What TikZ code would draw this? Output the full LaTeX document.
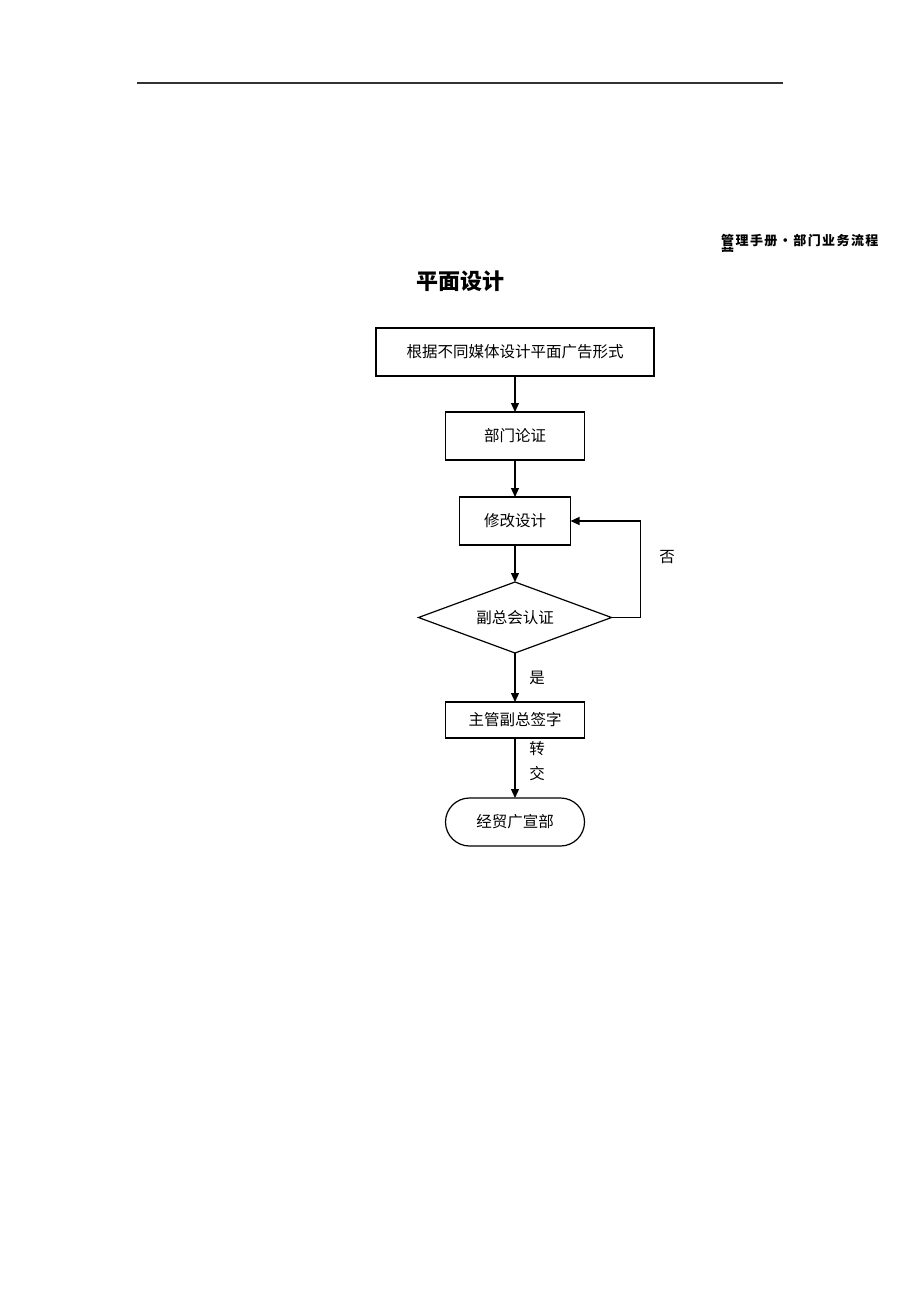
\documentclass[tikz,border=0pt]{standalone}
\usepackage{fontspec}
\newfontfamily\cjk{Noto Sans CJK SC}
\newfontfamily\cjkwide[LetterSpace=11]{Noto Sans CJK SC}
\usepackage{tikz}
\usetikzlibrary{arrows.meta,shapes,positioning}

\begin{document}
\begin{tikzpicture}[x=1pt,y=-1pt]
      \tikzstyle{box}=[rectangle,draw=black,line width=1.2pt,minimum height=48pt,inner sep=0pt,outer sep=0pt,font=\cjk\fontsize{15.5}{18}\selectfont]
      \tikzstyle{check}=[diamond,draw=black,line width=1.2pt,aspect=2.7,minimum width=193pt,minimum height=71pt,inner sep=0pt,outer sep=0pt,font=\cjk\fontsize{15.5}{18}\selectfont]
      \tikzstyle{term}=[box,rounded corners=24pt]
      \tikzstyle{arr}=[line width=1.2pt,-{Triangle[length=9pt,width=8pt]}]
      \tikzstyle{lab}=[font=\cjk\fontsize{15.5}{18}\selectfont,inner sep=0pt]

      \useasboundingbox[fill=white] (0,0) rectangle (920,1302);

      \begin{scope}
        \draw[line width=1.6pt,black!80] (137,83) -- (783,83);
        \node(head)[anchor=west,inner sep=0pt,font=\cjkwide\bfseries\fontsize{13}{14}\selectfont] at (721,241) {管理手册•部门业务流程};
        \begin{scope}
          \clip (715,245) rectangle (745,251);
          \node(head2)[anchor=west,inner sep=0pt,font=\cjk\bfseries\fontsize{13}{14}\selectfont] at (721,254) {营};
        \end{scope}
        \node(title)[inner sep=0pt,font=\cjk\bfseries\fontsize{22}{26}\selectfont] at (460,281) {平面设计};

        \node[box,minimum width=278pt](media) at (515,352) {根据不同媒体设计平面广告形式};
        \node[box,minimum width=139pt](dept)[below=36pt of media] {部门论证};
        \node[box,minimum width=111pt](modify)[below=37pt of dept] {修改设计};
        \node[check](cert)[below=37pt of modify] {副总会认证};
        \node[box,minimum width=139pt,minimum height=36pt](sign)[below=49pt of cert] {主管副总签字};
        \node[term,minimum width=139pt](trade)[below=60pt of sign] {经贸广宣部};

        \draw[arr] (media) -- (dept);
        \draw[arr] (dept) -- (modify);
        \draw[arr] (modify) -- (cert);
        \draw[arr] (cert) -- (sign);
        \draw[arr] (sign) -- (trade);
        \draw[arr] (cert.east) -- ++(29,0) |- (modify);

        \node[lab](no) at (667,557) {否};
        \node[lab](yes) at (537,678) {是};
        \node[lab](turn1) at (537,749) {转};
        \node[lab](turn2) at (537,774) {交};
      \end{scope}
    \end{tikzpicture}
\end{document}
